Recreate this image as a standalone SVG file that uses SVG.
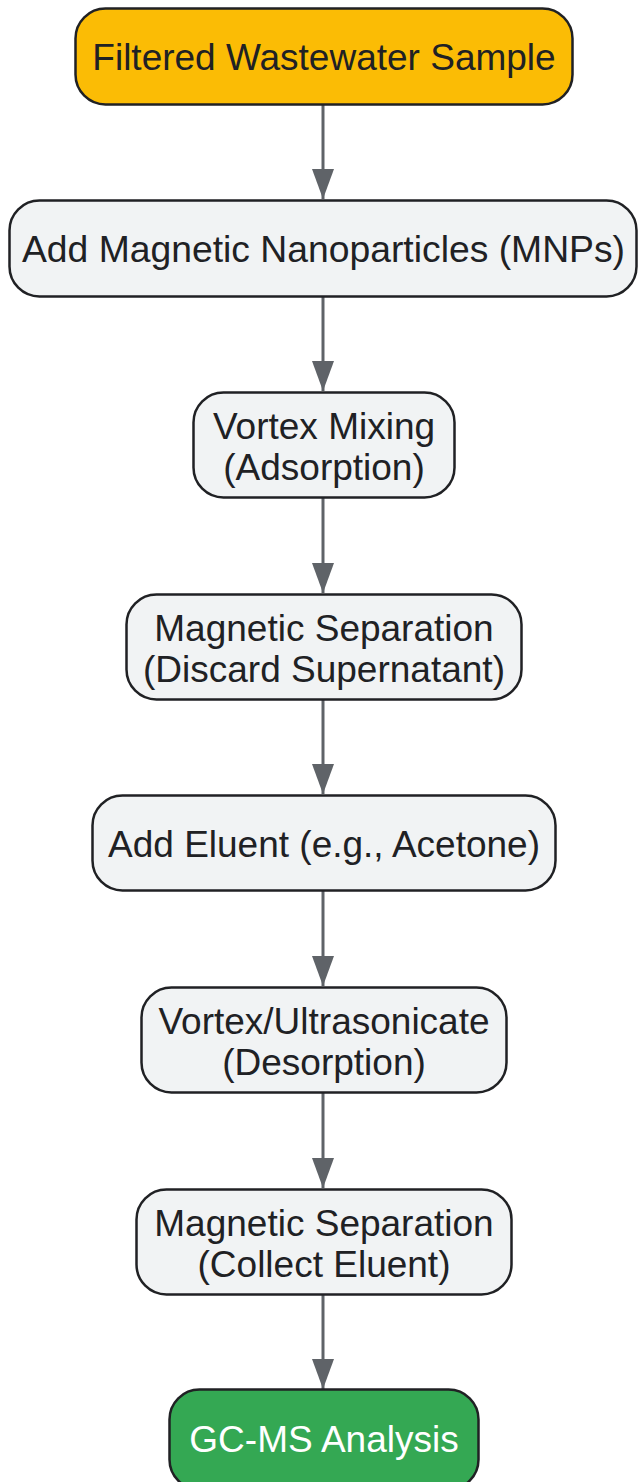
<svg xmlns="http://www.w3.org/2000/svg" width="638" height="1482" viewBox="0 0 638 1482">
<style>
.n{stroke:#202124;stroke-width:2.5}
.g{fill:#F1F3F4}
.t{font-family:"Liberation Sans",Arial,sans-serif;font-size:37px;fill:#202124;text-anchor:middle}
.e{stroke:#5F6368;stroke-width:3;fill:none}
</style>
<defs>
<marker id="ah" viewBox="0 0 30 22" refX="30" refY="11" markerWidth="30" markerHeight="22" markerUnits="userSpaceOnUse" orient="auto">
<path d="M0,0 L30,11 L0,22 Z" fill="#5F6368"/>
</marker>
</defs>
<g id="edges">
<path class="e" d="M323,105 V199" marker-end="url(#ah)"/>
<path class="e" d="M323,297 V391" marker-end="url(#ah)"/>
<path class="e" d="M323,498 V593" marker-end="url(#ah)"/>
<path class="e" d="M323,700 V794" marker-end="url(#ah)"/>
<path class="e" d="M323,891 V986" marker-end="url(#ah)"/>
<path class="e" d="M323,1093 V1188" marker-end="url(#ah)"/>
<path class="e" d="M323,1295 V1389" marker-end="url(#ah)"/>
</g>
<g id="n1"><rect class="n" x="75.5" y="8.5" width="497" height="96" rx="30" fill="#FBBC05"/><text class="t" x="324" y="70">Filtered Wastewater Sample</text></g>
<g id="n2"><rect class="n g" x="9.5" y="200.5" width="627" height="96" rx="30"/><text class="t" x="323.5" y="262" textLength="603" lengthAdjust="spacingAndGlyphs">Add Magnetic Nanoparticles (MNPs)</text></g>
<g id="n3"><rect class="n g" x="193.5" y="392.5" width="261" height="105" rx="30"/><text class="t" x="324" y="439">Vortex Mixing</text><text class="t" x="324" y="480">(Adsorption)</text></g>
<g id="n4"><rect class="n g" x="126.5" y="594.5" width="395" height="105" rx="30"/><text class="t" x="324" y="641">Magnetic Separation</text><text class="t" x="324" y="682">(Discard Supernatant)</text></g>
<g id="n5"><rect class="n g" x="92.5" y="795.5" width="463" height="95" rx="30"/><text class="t" x="324" y="857">Add Eluent (e.g., Acetone)</text></g>
<g id="n6"><rect class="n g" x="141.5" y="987.5" width="365" height="105" rx="30"/><text class="t" x="324" y="1034">Vortex/Ultrasonicate</text><text class="t" x="324" y="1075">(Desorption)</text></g>
<g id="n7"><rect class="n g" x="136.5" y="1189.5" width="375" height="105" rx="30"/><text class="t" x="324" y="1236">Magnetic Separation</text><text class="t" x="324" y="1277">(Collect Eluent)</text></g>
<g id="n8"><rect class="n" x="169.5" y="1389.5" width="309" height="100" rx="30" fill="#34A853"/><text class="t" x="324" y="1452" style="fill:#FFFFFF">GC-MS Analysis</text></g>
</svg>
